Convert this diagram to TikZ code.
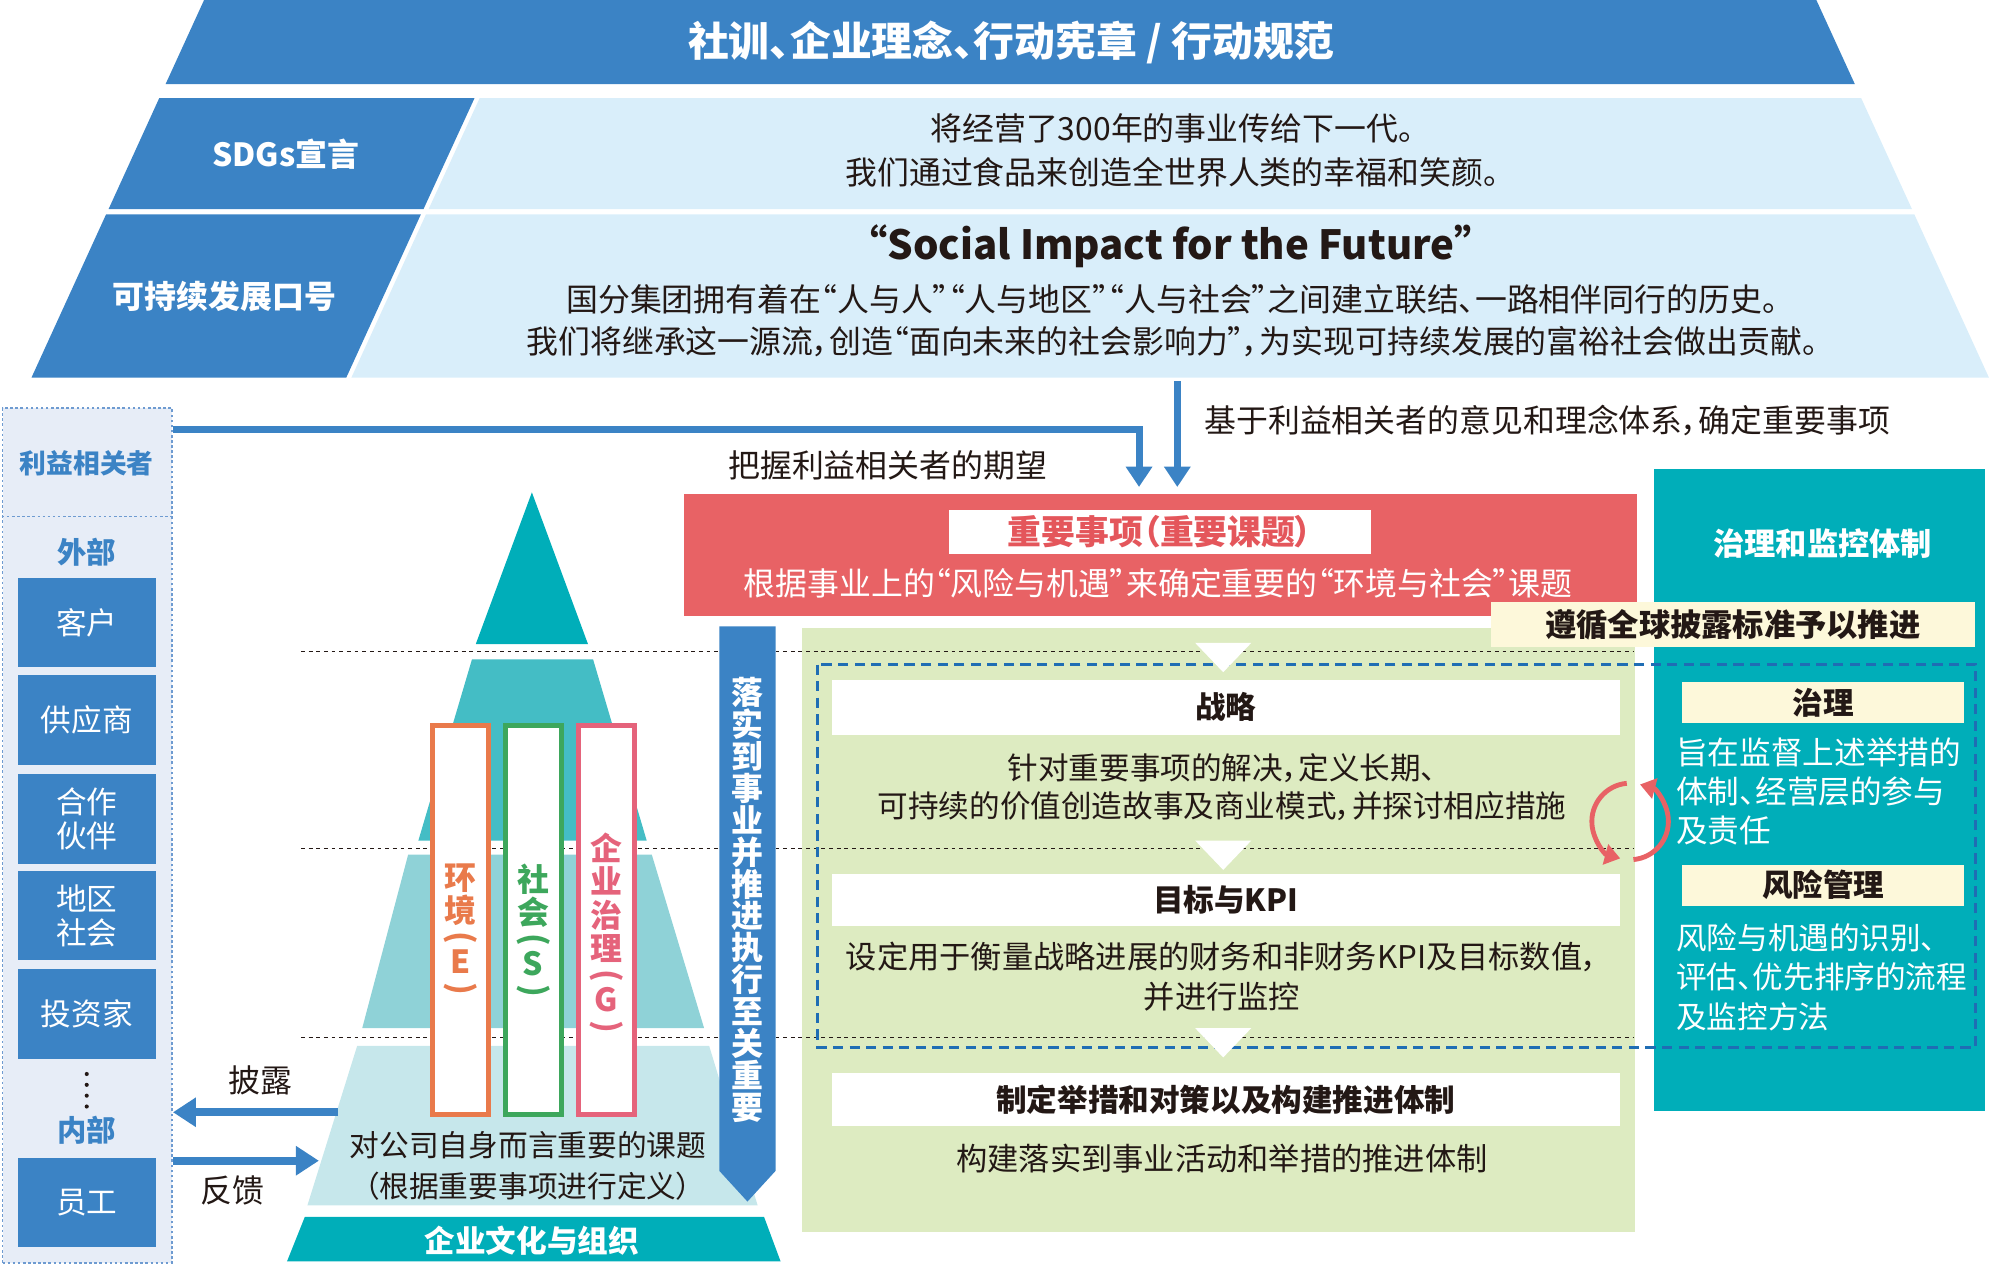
\documentclass[tikz,border=0pt]{standalone}
\usepackage{fontspec}
\usepackage{graphicx}
\setmainfont[RawFeature={+palt}]{Noto Sans CJK SC}
\usetikzlibrary{arrows.meta}
\newcommand\kfs[2]{\fontsize{#1pt}{#2pt}\selectfont}
\newcommand\vparL{\rotatebox[origin=c]{-90}{(}}
\newcommand\vparR{\rotatebox[origin=c]{-90}{)}}
\definecolor{kblue}{HTML}{3B83C5}
\definecolor{klight}{HTML}{D9EEFA}
\definecolor{kred}{HTML}{E86265}
\definecolor{kredtxt}{HTML}{E4565B}
\definecolor{kteal}{HTML}{00AEB9}
\definecolor{ktealb}{HTML}{44BDC5}
\definecolor{ktealc}{HTML}{8FD2D7}
\definecolor{kteald}{HTML}{C6E7EB}
\definecolor{kgreen}{HTML}{DDEBC1}
\definecolor{kyellow}{HTML}{FDF8DA}
\definecolor{klav}{HTML}{E7EDF7}
\definecolor{kdash}{HTML}{1F6DB4}
\definecolor{kdashb}{HTML}{6E9BD1}
\definecolor{ktext}{HTML}{231815}
\definecolor{korange}{HTML}{E97A4B}
\definecolor{kgreenp}{HTML}{3DA75C}
\definecolor{kpink}{HTML}{E5637B}
\begin{document}
\begin{tikzpicture}[x=1pt,y=-1pt,
  hdr/.style={text=white, inner sep=0pt, font=\kfs{32}{36}\bfseries},
  whitebold/.style={text=white, inner sep=0pt, align=center, font=\kfs{25}{30}\bfseries},
  body/.style={text=ktext, inner sep=0pt, align=center, font=\kfs{25}{31}},
  stkbox/.style={fill=kblue, minimum width=108pt, minimum height=70pt, inner sep=0pt, text=white, align=center, font=\kfs{24}{27}},
  stklabel/.style={text=kblue, inner sep=0pt, font=\kfs{23}{26}\bfseries},
  pillar/.style={fill=white, line width=4pt, minimum width=44pt, minimum height=305pt, inner sep=0pt},
  pillartext/.style={inner sep=0pt, align=center, font=\kfs{25}{26}\bfseries},
  whitebar/.style={fill=white, minimum width=618pt, inner sep=0pt, text=ktext, font=\kfs{24}{28}\bfseries},
  ybox/.style={fill=kyellow, inner sep=0pt, text=ktext, font=\kfs{24}{28}\bfseries},
  fatarrow/.style={draw=kblue, line width=6.5pt, -{Triangle[width=22pt,length=18pt]}},
  thinarrow/.style={draw=kblue, line width=5.5pt, -{Triangle[width=20pt,length=16pt]}},
  dotline/.style={draw=ktext, line width=0.7pt, dash pattern=on 3pt off 3pt},
  cycarrow/.style={draw=kred, line width=3.8pt, -{Triangle[width=16pt,length=12pt]}},
  panel/.style={inner sep=0pt}
]
\useasboundingbox (0,0) rectangle (1568,993);

% ---------- top rows ----------
\fill[kblue] (160,0) -- (1424,0) -- (1454.2,66) -- (129.8,66) -- cycle;
\node[hdr] (banner) at (793,33) {社训、企业理念、行动宪章 / 行动规范};

\fill[kblue] (124.8,77) -- (372,77) -- (332,164) -- (85.1,164) -- cycle;
\fill[klight] (376,77) -- (1459.2,77) -- (1499,164) -- (336,164) -- cycle;
\node[whitebold] (sdgl) at (224,121) {SDGs宣言};
\node[body, font=\kfs{25}{34}] (sdgt) at (919,118) {将经营了300年的事业传给下一代。\\我们通过食品来创造全世界人类的幸福和笑颜。};

\fill[kblue] (83.2,168) -- (330,168) -- (271.5,296) -- (24.7,296) -- cycle;
\fill[klight] (334,168) -- (1500.8,168) -- (1559.3,296) -- (275.5,296) -- cycle;
\node[whitebold] (slgl) at (176,232) {可持续发展口号};
\node[text=ktext, inner sep=0pt, font=\kfs{31.5}{38}\bfseries] (slgt) at (918,193) {“Social Impact for the Future”};
\node[body, font=\kfs{25}{33}] (slgb) at (919,251.5) {国分集团拥有着在“人与人”“人与地区”“人与社会”之间建立联结、一路相伴同行的历史。\\我们将继承这一源流，创造“面向未来的社会影响力”，为实现可持续发展的富裕社会做出贡献。};

% ---------- stakeholder column ----------
\node[panel, fill=klav, draw=kdashb, line width=1.2pt, dash pattern=on 2pt off 2pt, minimum width=133pt, minimum height=670pt] (stake) at (68.5,655) {};
\coordinate (sepc) at (68,405);
\draw[draw=kdashb, line width=1.2pt, dash pattern=on 2pt off 2pt] (stake.west |- sepc) -- (stake.east |- sepc);
\node[stklabel, font=\kfs{21}{24}\bfseries] (stkt) at (68,363) {利益相关者};
\node[stklabel] (ext) at (68,433) {外部};
\node[stkbox] (cust) at (68,488) {客户};
\node[stkbox] (supp) at (68,564.5) {供应商};
\node[stkbox] (part) at (68,642) {合作\\伙伴};
\node[stkbox] (comm) at (68,718) {地区\\社会};
\node[stkbox] (inv) at (68,795) {投资家};
\foreach \yy in {842,850.5,859,867.5} \fill[ktext] (68,\yy) circle[radius=1.6];
\node[stklabel] (intl) at (68,886) {内部};
\node[stkbox] (emp) at (68,943) {员工};

% ---------- big panels ----------
\node[panel, fill=kgreen, minimum width=653pt, minimum height=474pt] (grn) at (955.5,729) {};
\node[panel, fill=kred, minimum width=747pt, minimum height=96pt] (mat) at (909.5,435) {};
\node[panel, fill=kteal, minimum width=259pt, minimum height=503pt] (gov) at (1426.5,619.5) {};

% ---------- pyramid ----------
\fill[kteal] (417,386) -- (461,505) -- (373,505) -- cycle;
\fill[ktealb] (370,517) -- (465,517) -- (507,659) -- (328,659) -- cycle;
\fill[ktealc] (320,670) -- (511,670) -- (552,806) -- (284,806) -- cycle;
\fill[kteald] (280,820) -- (556,820) -- (594,945) -- (241,945) -- cycle;
\fill[kteal] (239,954) -- (599,954) -- (612,989) -- (225,989) -- cycle;

% ---------- dotted guide lines ----------
\foreach \yy in {511,665,813} \draw[dotline] (236,\yy) -- (1281,\yy);

% ---------- blue dashed frame ----------
\draw[kdash, line width=2.5pt, dash pattern=on 8pt off 5pt] (641,521) rectangle (1549,821);

% ---------- pillars ----------
\node[pillar, draw=korange] (penv) at (361,721.5) {};
\node[pillar, draw=kgreenp] (psoc) at (418,721.5) {};
\node[pillar, draw=kpink] (pgov) at (475.5,721.5) {};
\node[pillartext, text=korange, anchor=north] (tenv) at (361,677) {环\\境\\[-6pt]\vparL\\[-6pt]E\\[-6pt]\vparR};
\node[pillartext, text=kgreenp, anchor=north] (tsoc) at (418,677) {社\\会\\[-6pt]\vparL\\[-6pt]S\\[-6pt]\vparR};
\node[pillartext, text=kpink, anchor=north] (tgov) at (475.5,653) {企\\业\\治\\理\\[-6pt]\vparL\\[-6pt]G\\[-6pt]\vparR};
\node[body, font=\kfs{23.3}{32}] (ptxt) at (414,914) {对公司自身而言重要的课题\\（根据重要事项进行定义）};
\node[whitebold, font=\kfs{24}{28}\bfseries] (culture) at (417,973) {企业文化与组织};

% ---------- vertical blue arrow ----------
\fill[kblue] (564,491) -- (608,491) -- (608,918) -- (586,942) -- (564,918) -- cycle;
\node[whitebold, font=\kfs{25}{25}\bfseries] (vtxt) at (586,705.5) {落\\实\\到\\事\\业\\并\\推\\进\\执\\行\\至\\关\\重\\要};

% ---------- materiality box ----------
\node[panel, fill=white, minimum width=331pt, minimum height=34pt, text=kredtxt, font=\kfs{26.5}{30}\bfseries] (matt) at (909.5,417) {重要事项（重要课题）};
\node[body, text=white, font=\kfs{25}{30}] (mats) at (908,457) {根据事业上的“风险与机遇”来确定重要的“环境与社会”课题};

% ---------- green flow ----------
\fill[white] (937,504) -- (981,504) -- (959,527) -- cycle;
\fill[white] (937,659) -- (981,659) -- (959,682) -- cycle;
\fill[white] (937,806) -- (981,806) -- (959,829) -- cycle;
\node[whitebar, minimum height=43pt] (strat) at (961,554.5) {战略};
\node[body, font=\kfs{24}{30}] (strattxt) at (958,617) {针对重要事项的解决，定义长期、\\可持续的价值创造故事及商业模式，并探讨相应措施};
\node[whitebar, minimum height=41pt] (kpi) at (961,705.5) {目标与KPI};
\node[body, font=\kfs{24.5}{31}] (kpitxt) at (958,765.5) {设定用于衡量战略进展的财务和非财务KPI及目标数值，\\并进行监控};
\node[whitebar, minimum height=42pt] (meas) at (961,862) {制定举措和对策以及构建推进体制};
\node[body, font=\kfs{24.5}{31}] (meastxt) at (958,908) {构建落实到事业活动和举措的推进体制};

% ---------- governance panel ----------
\node[whitebold, font=\kfs{24.5}{28}\bfseries] (govt) at (1429,426) {治理和监控体制};
\node[ybox, minimum width=379pt, minimum height=35pt, font=\kfs{24.5}{28}\bfseries] (gri) at (1358.5,489.5) {遵循全球披露标准予以推进};
\node[ybox, minimum width=221pt, minimum height=32pt] (govh) at (1429.5,551) {治理};
\node[text=white, inner sep=0pt, align=left, anchor=west, font=\kfs{24.8}{30.5}] (govtxt) at (1314,620.5) {旨在监督上述举措的\\体制、经营层的参与\\及责任};
\node[ybox, minimum width=221pt, minimum height=32pt] (riskh) at (1429.5,694) {风险管理};
\node[text=white, inner sep=0pt, align=left, anchor=west, font=\kfs{24}{31}] (risktxt) at (1314,766) {风险与机遇的识别、\\评估、优先排序的流程\\及监控方法};

% ---------- cycle arrows ----------
\coordinate (cyc) at (1278,644);
\draw[cycarrow] ([shift={(265:30)}]cyc) arc[start angle=265, end angle=105, radius=30];
\draw[cycarrow] ([shift={(85:30)}]cyc) arc[start angle=85, end angle=-75, radius=30];

% ---------- connectors ----------
\coordinate (tA) at (893,337);
\draw[thinarrow, shorten >=5pt] (stake.east |- tA) -| (tA |- mat.north);
\node[body] (grasp) at (696,365) {把握利益相关者的期望};
\coordinate (sB) at (923,299);
\draw[thinarrow, shorten >=5pt] (sB) -- (sB |- mat.north);
\node[body, anchor=west] (basis) at (944,330) {基于利益相关者的意见和理念体系，确定重要事项};

\coordinate (dA) at (265,872);
\draw[fatarrow] (dA) -- (stake.east |- dA);
\node[body] (discl) at (204,847) {披露};
\coordinate (fB) at (250,910);
\draw[fatarrow] (stake.east |- fB) -- (fB);
\node[body] (feedb) at (182,933) {反馈};
\end{tikzpicture}
\end{document}
